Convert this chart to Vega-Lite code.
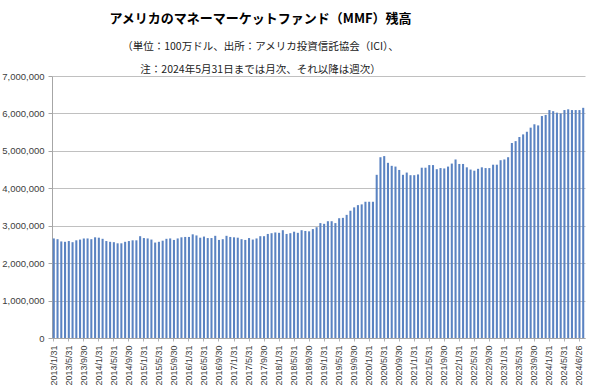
{
  "$schema": "https://vega.github.io/schema/vega-lite/v6.json",
  "width": 533,
  "height": 262,
  "autosize": {"type": "none"},
  "padding": {"left": 52, "top": 76, "right": 15, "bottom": 54},
  "background": "white",
  "title": {
    "text": "アメリカのマネーマーケットファンド（MMF）残高",
    "subtitle": ["（単位：100万ドル、出所：アメリカ投資信託協会（ICI）、", "注：2024年5月31日までは月次、それ以降は週次）"],
    "anchor": "middle",
    "dx": -58,
    "font": "Noto Sans CJK JP",
    "fontSize": 13,
    "fontWeight": "bold",
    "color": "#000000",
    "subtitleFont": "Noto Sans CJK JP",
    "subtitleFontSize": 10.5,
    "subtitleColor": "#222222",
    "subtitleLineHeight": 23,
    "subtitlePadding": 16,
    "offset": -4
  },
  "data": {
    "values": [
      {"d": "2013/1/31", "v": 2660000}, {"d": "2013/2/28", "v": 2640000}, {"d": "2013/3/31", "v": 2580000}, {"d": "2013/4/30", "v": 2570000},
      {"d": "2013/5/31", "v": 2590000}, {"d": "2013/6/30", "v": 2560000}, {"d": "2013/7/31", "v": 2610000}, {"d": "2013/8/31", "v": 2630000},
      {"d": "2013/9/30", "v": 2660000}, {"d": "2013/10/31", "v": 2660000}, {"d": "2013/11/30", "v": 2640000}, {"d": "2013/12/31", "v": 2690000},
      {"d": "2014/1/31", "v": 2680000}, {"d": "2014/2/28", "v": 2650000}, {"d": "2014/3/31", "v": 2590000}, {"d": "2014/4/30", "v": 2570000},
      {"d": "2014/5/31", "v": 2560000}, {"d": "2014/6/30", "v": 2530000}, {"d": "2014/7/31", "v": 2530000}, {"d": "2014/8/31", "v": 2570000},
      {"d": "2014/9/30", "v": 2590000}, {"d": "2014/10/31", "v": 2610000}, {"d": "2014/11/30", "v": 2610000}, {"d": "2014/12/31", "v": 2720000},
      {"d": "2015/1/31", "v": 2670000}, {"d": "2015/2/28", "v": 2660000}, {"d": "2015/3/31", "v": 2630000}, {"d": "2015/4/30", "v": 2550000},
      {"d": "2015/5/31", "v": 2570000}, {"d": "2015/6/30", "v": 2600000}, {"d": "2015/7/31", "v": 2650000}, {"d": "2015/8/31", "v": 2660000},
      {"d": "2015/9/30", "v": 2620000}, {"d": "2015/10/31", "v": 2660000}, {"d": "2015/11/30", "v": 2690000}, {"d": "2015/12/31", "v": 2700000},
      {"d": "2016/1/31", "v": 2700000}, {"d": "2016/2/29", "v": 2770000}, {"d": "2016/3/31", "v": 2740000}, {"d": "2016/4/30", "v": 2680000},
      {"d": "2016/5/31", "v": 2710000}, {"d": "2016/6/30", "v": 2670000}, {"d": "2016/7/31", "v": 2670000}, {"d": "2016/8/31", "v": 2730000},
      {"d": "2016/9/30", "v": 2620000}, {"d": "2016/10/31", "v": 2640000}, {"d": "2016/11/30", "v": 2730000}, {"d": "2016/12/31", "v": 2700000},
      {"d": "2017/1/31", "v": 2690000}, {"d": "2017/2/28", "v": 2680000}, {"d": "2017/3/31", "v": 2640000}, {"d": "2017/4/30", "v": 2620000},
      {"d": "2017/5/31", "v": 2670000}, {"d": "2017/6/30", "v": 2630000}, {"d": "2017/7/31", "v": 2660000}, {"d": "2017/8/31", "v": 2720000},
      {"d": "2017/9/30", "v": 2720000}, {"d": "2017/10/31", "v": 2780000}, {"d": "2017/11/30", "v": 2800000}, {"d": "2017/12/31", "v": 2820000},
      {"d": "2018/1/31", "v": 2810000}, {"d": "2018/2/28", "v": 2880000}, {"d": "2018/3/31", "v": 2780000}, {"d": "2018/4/30", "v": 2800000},
      {"d": "2018/5/31", "v": 2840000}, {"d": "2018/6/30", "v": 2810000}, {"d": "2018/7/31", "v": 2880000}, {"d": "2018/8/31", "v": 2860000},
      {"d": "2018/9/30", "v": 2850000}, {"d": "2018/10/31", "v": 2910000}, {"d": "2018/11/30", "v": 2960000}, {"d": "2018/12/31", "v": 3070000},
      {"d": "2019/1/31", "v": 3050000}, {"d": "2019/2/28", "v": 3120000}, {"d": "2019/3/31", "v": 3120000}, {"d": "2019/4/30", "v": 3070000},
      {"d": "2019/5/31", "v": 3200000}, {"d": "2019/6/30", "v": 3210000}, {"d": "2019/7/31", "v": 3290000}, {"d": "2019/8/31", "v": 3400000},
      {"d": "2019/9/30", "v": 3490000}, {"d": "2019/10/31", "v": 3550000}, {"d": "2019/11/30", "v": 3570000}, {"d": "2019/12/31", "v": 3640000},
      {"d": "2020/1/31", "v": 3640000}, {"d": "2020/2/29", "v": 3640000}, {"d": "2020/3/31", "v": 4360000}, {"d": "2020/4/30", "v": 4830000},
      {"d": "2020/5/31", "v": 4860000}, {"d": "2020/6/30", "v": 4680000}, {"d": "2020/7/31", "v": 4600000}, {"d": "2020/8/31", "v": 4580000},
      {"d": "2020/9/30", "v": 4490000}, {"d": "2020/10/31", "v": 4360000}, {"d": "2020/11/30", "v": 4420000}, {"d": "2020/12/31", "v": 4350000},
      {"d": "2021/1/31", "v": 4350000}, {"d": "2021/2/28", "v": 4370000}, {"d": "2021/3/31", "v": 4550000}, {"d": "2021/4/30", "v": 4550000},
      {"d": "2021/5/31", "v": 4620000}, {"d": "2021/6/30", "v": 4620000}, {"d": "2021/7/31", "v": 4510000}, {"d": "2021/8/31", "v": 4540000},
      {"d": "2021/9/30", "v": 4530000}, {"d": "2021/10/31", "v": 4580000}, {"d": "2021/11/30", "v": 4660000}, {"d": "2021/12/31", "v": 4770000},
      {"d": "2022/1/31", "v": 4650000}, {"d": "2022/2/28", "v": 4650000}, {"d": "2022/3/31", "v": 4560000}, {"d": "2022/4/30", "v": 4500000},
      {"d": "2022/5/31", "v": 4470000}, {"d": "2022/6/30", "v": 4520000}, {"d": "2022/7/31", "v": 4560000}, {"d": "2022/8/31", "v": 4540000},
      {"d": "2022/9/30", "v": 4540000}, {"d": "2022/10/31", "v": 4630000}, {"d": "2022/11/30", "v": 4630000}, {"d": "2022/12/31", "v": 4750000},
      {"d": "2023/1/31", "v": 4770000}, {"d": "2023/2/28", "v": 4830000}, {"d": "2023/3/31", "v": 5210000}, {"d": "2023/4/30", "v": 5260000},
      {"d": "2023/5/31", "v": 5370000}, {"d": "2023/6/30", "v": 5440000}, {"d": "2023/7/31", "v": 5510000}, {"d": "2023/8/31", "v": 5620000},
      {"d": "2023/9/30", "v": 5710000}, {"d": "2023/10/31", "v": 5680000}, {"d": "2023/11/30", "v": 5930000}, {"d": "2023/12/31", "v": 5960000},
      {"d": "2024/1/31", "v": 6090000}, {"d": "2024/2/29", "v": 6060000}, {"d": "2024/3/31", "v": 6020000}, {"d": "2024/4/30", "v": 6000000},
      {"d": "2024/5/31", "v": 6090000}, {"d": "2024/6/5", "v": 6110000}, {"d": "2024/6/12", "v": 6090000}, {"d": "2024/6/19", "v": 6090000},
      {"d": "2024/6/26", "v": 6090000}, {"d": "2024/7/3", "v": 6150000}
    ]
  },
  "mark": {"type": "bar", "color": "#5a83c2"},
  "encoding": {
    "x": {
      "field": "d",
      "type": "ordinal",
      "sort": null,
      "scale": {"paddingInner": 0.45, "paddingOuter": 0.2},
      "axis": {
        "title": null,
        "values": ["2013/1/31", "2013/5/31", "2013/9/30", "2014/1/31", "2014/5/31", "2014/9/30", "2015/1/31", "2015/5/31", "2015/9/30", "2016/1/31", "2016/5/31", "2016/9/30", "2017/1/31", "2017/5/31", "2017/9/30", "2018/1/31", "2018/5/31", "2018/9/30", "2019/1/31", "2019/5/31", "2019/9/30", "2020/1/31", "2020/5/31", "2020/9/30", "2021/1/31", "2021/5/31", "2021/9/30", "2022/1/31", "2022/5/31", "2022/9/30", "2023/1/31", "2023/5/31", "2023/9/30", "2024/1/31", "2024/5/31", "2024/6/26"],
        "labelAngle": -90,
        "labelFont": "Liberation Sans",
        "labelFontSize": 9,
        "labelColor": "#404040",
        "labelOverlap": false,
        "labelPadding": 4,
        "ticks": true,
        "tickSize": 3,
        "tickColor": "#b5b5b5",
        "domainColor": "#a6a6a6",
        "grid": false
      }
    },
    "y": {
      "field": "v",
      "type": "quantitative",
      "scale": {"domain": [0, 7000000], "nice": false},
      "axis": {
        "title": null,
        "values": [0, 1000000, 2000000, 3000000, 4000000, 5000000, 6000000, 7000000],
        "format": ",.0f",
        "labelFont": "Liberation Sans",
        "labelFontSize": 9.5,
        "labelColor": "#404040",
        "labelPadding": 4,
        "tickSize": 4,
        "tickColor": "#a6a6a6",
        "domainColor": "#a6a6a6",
        "gridColor": "#c0c0c0",
        "gridWidth": 1
      }
    }
  },
  "config": {"view": {"stroke": null}}
}
